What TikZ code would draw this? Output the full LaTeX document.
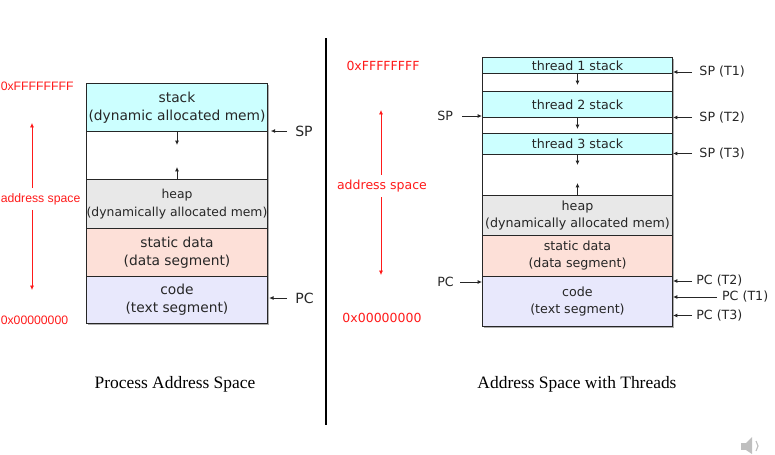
\documentclass[tikz,border=0pt]{standalone}
\usepackage{fontspec}
\setmainfont{DejaVu Sans}
\newfontfamily\capfont{Liberation Serif}
\newfontfamily\arialfont{Liberation Sans}
\usetikzlibrary{arrows.meta,shadows}

\definecolor{stackcol}{HTML}{CCFFFF}
\definecolor{heapcol}{HTML}{E8E8E8}
\definecolor{datacol}{HTML}{FDE0D8}
\definecolor{codecol}{HTML}{E8E8FC}
\definecolor{addrred}{HTML}{FF1A1A}

\begin{document}
\begin{tikzpicture}[
    x=0.025cm, y=-0.025cm,
    seg/.style 2 args={rectangle, draw=black!85, line width=0.7pt, anchor=north west,
        inner sep=0, minimum width=#1*0.025cm, minimum height=#2*0.025cm, align=center,
        text=black!85, drop shadow={shadow xshift=0.04cm, shadow yshift=-0.04cm, fill=black!45, opacity=0.7}},
    big/.style={font=\fontsize{9.8}{13}\selectfont},
    small/.style={font=\fontsize{9}{12.3}\selectfont},
    ptr/.style={-{Latex[length=0.11cm,width=0.1cm]}, line width=0.6pt, black!85},
    redptr/.style={-{Latex[length=0.11cm,width=0.1cm]}, line width=0.5pt, addrred},
    lbl/.style={inner xsep=0.18cm, inner ysep=0, text=black!85},
    addr/.style={text=addrred, font=\fontsize{8.9}{11}\selectfont, inner ysep=0.12cm, inner xsep=0},
    addrL/.style={addr, font=\arialfont\fontsize{8.7}{11}\selectfont, anchor=west}
]
\useasboundingbox (0,0) rectangle (775,454);

% divider
\draw[line width=1.4pt] (326,38) -- (326,425);

% ---- process address space ----
\node[seg={181}{48}, fill=stackcol, big] (stackL) at (86,83) {stack\\(dynamic allocated mem)};
\node[seg={181}{48}, fill=white] (freeL) at (86,131) {};
\node[seg={181}{49}, fill=heapcol, font=\fontsize{8.8}{13}\selectfont] (heapL) at (86,179) {heap\\(dynamically allocated mem)};
\node[seg={181}{48}, fill=datacol, big] (dataL) at (86,228) {static data\\(data segment)};
\node[seg={181}{47}, fill=codecol, big] (codeL) at (86,276) {code\\(text segment)};

\draw[ptr] (freeL.north) -- ++(0,14);
\draw[ptr] (freeL.south) -- ++(0,-13);

\node[lbl, anchor=west, font=\fontsize{10}{12}\selectfont, inner xsep=0.2cm] (spL) at (287,131) {SP};
\node[lbl, anchor=west, font=\fontsize{10}{12}\selectfont, inner xsep=0.2cm] (pcL) at (287,298) {PC};
\draw[ptr, shorten >=0.07cm] (spL) -- (spL -| stackL.east);
\draw[ptr, shorten >=0.03cm] (pcL) -- (pcL -| codeL.east);

% address range (left)
\node[addrL] (hiTextL) at (0.5,86) {0xFFFFFFFF};
\node[addrL] (asL) at (0.5,199) {address space};
\node[addrL] (loTextL) at (0.5,320) {0x00000000};
\coordinate (hiL) at (32,123);
\coordinate (loL) at (32,290);
\draw[redptr] (asL.north -| hiL) -- (hiL);
\draw[redptr] (asL.south -| loL) -- (loL);

\node[font=\capfont\fontsize{12.4}{14}\selectfont] (capL) at (175,384) {Process Address Space};

% ---- address space with threads ----
\node[seg={190}{16}, fill=stackcol, small] (t1) at (482,57) {thread 1 stack};
\node[seg={190}{18}, fill=white] (f1) at (482,73) {};
\node[seg={190}{26}, fill=stackcol, small] (t2) at (482,91) {thread 2 stack};
\node[seg={190}{16}, fill=white] (f2) at (482,117) {};
\node[seg={190}{21}, fill=stackcol, small] (t3) at (482,133) {thread 3 stack};
\node[seg={190}{41}, fill=white] (f3) at (482,154) {};
\node[seg={190}{40}, fill=heapcol, small] (heapR) at (482,195) {heap\\(dynamically allocated mem)};
\node[seg={190}{40.5}, fill=datacol, small] (dataR) at (482,235) {static data\\(data segment)};
\node[seg={190}{50.5}, fill=codecol, small] (codeR) at (482,275.5) {code\\(text segment)};

\draw[ptr] (f1.north) -- ++(0,12);
\draw[ptr] (f2.north) -- ++(0,12);
\draw[ptr] (f3.north) -- ++(0,11);
\draw[ptr] (f3.south) -- ++(0,-13);

\node[lbl, small, anchor=west] (spT1) at (692,72) {SP (T1)};
\node[lbl, small, anchor=west] (spT2) at (692,117.5) {SP (T2)};
\node[lbl, small, anchor=west] (spT3) at (692,153.5) {SP (T3)};
\node[lbl, small, anchor=west, inner xsep=0.1cm] (pcT2) at (692,281) {PC (T2)};
\node[lbl, small, anchor=west, inner xsep=0.12cm] (pcT1) at (717,297) {PC (T1)};
\node[lbl, small, anchor=west, inner xsep=0.1cm] (pcT3) at (692,315.5) {PC (T3)};
\draw[ptr] (spT1) -- (spT1 -| t1.east);
\draw[ptr] (spT2) -- (spT2 -| t2.east);
\draw[ptr] (spT3) -- (spT3 -| t3.east);
\draw[ptr] (pcT2) -- (pcT2 -| codeR.east);
\draw[ptr] (pcT1) -- (pcT1 -| codeR.east);
\draw[ptr] (pcT3) -- (pcT3 -| codeR.east);

\node[lbl, small, anchor=east, inner xsep=0.22cm] (spM) at (462,116) {SP};
\node[lbl, small, anchor=east, inner xsep=0.15cm] (pcM) at (460,282) {PC};
\draw[ptr] (spM) -- (spM -| t2.west);
\draw[ptr] (pcM) -- (pcM -| codeR.west);

% address range (right)
\node[addr] (hiTextR) at (383,66) {0xFFFFFFFF};
\node[addr] (asR) at (382,186) {address space};
\node[addr] (loTextR) at (382,318) {0x00000000};
\coordinate (hiR) at (381,110);
\coordinate (loR) at (381,275);
\draw[redptr] (asR.north -| hiR) -- (hiR);
\draw[redptr] (asR.south -| loR) -- (loR);

\node[font=\capfont\fontsize{12.4}{14}\selectfont] (capR) at (577,384) {Address Space with Threads};

% speaker icon
\fill[black!25] (741,443) rectangle (746,450);
\fill[black!25] (746,443) -- (752,437) -- (752,454) -- (746,450) -- cycle;
\draw[black!25, line width=0.8pt] (756,441) -- (758,446) -- (756,451);
\end{tikzpicture}
\end{document}
